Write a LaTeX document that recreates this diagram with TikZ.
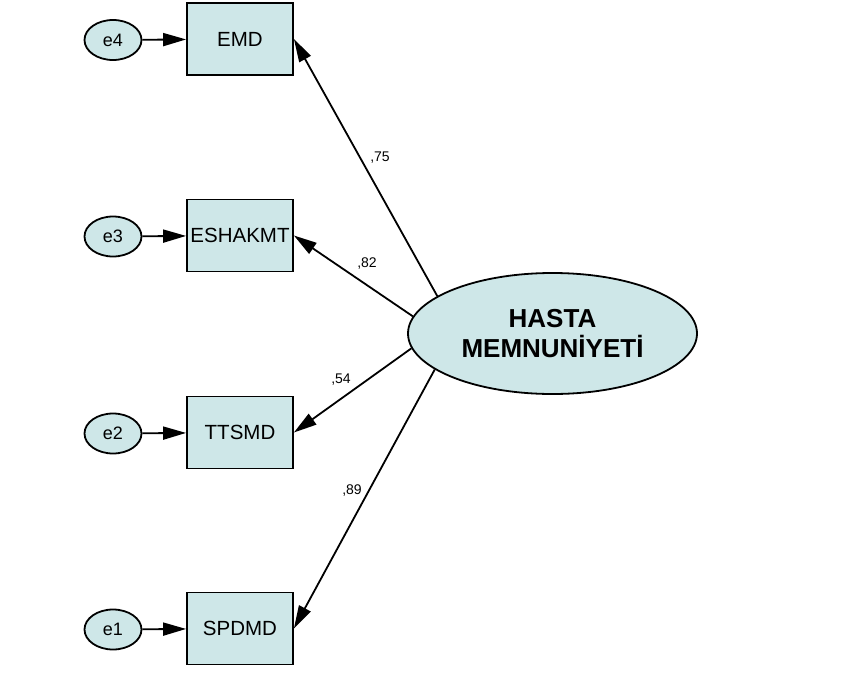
\documentclass[tikz,border=0pt]{standalone}
\usepackage{fontspec}
\setmainfont{Liberation Sans}
\usetikzlibrary{arrows.meta,shapes.geometric}
\definecolor{boxfill}{RGB}{206,231,232}
\tikzset{
  obs/.style={draw, line width=1.8pt, fill=boxfill, minimum width=106pt, minimum height=72pt, inner sep=0pt, font=\fontsize{20.5}{24}\selectfont},
  err/.style={draw, ellipse, line width=1.8pt, fill=boxfill, minimum width=57pt, minimum height=40pt, inner sep=0pt, font=\fontsize{18}{20}\selectfont},
  lat/.style={draw, ellipse, line width=1.8pt, fill=boxfill, minimum width=289pt, minimum height=121pt, inner sep=0pt, align=center, font=\fontsize{26}{30}\selectfont\bfseries},
  arr/.style={line width=1.8pt, -{Triangle[length=23pt,width=13pt]}},
  lbl/.style={font=\fontsize{14}{16}\selectfont, inner sep=0pt}
}
\begin{document}
\begin{tikzpicture}[x=1pt,y=-1pt]
\useasboundingbox (0,0) rectangle (850,677);
\node[obs] (emd) at (240,39) {EMD};
\node[obs] (esh) at (240,235.5) {ESHAKMT};
\node[obs] (tts) at (240,432.5) {TTSMD};
\node[obs] (spd) at (240,628.5) {SPDMD};
\node[err] (e4) at (113,40) {e4};
\node[err] (e3) at (113,236.5) {e3};
\node[err] (e2) at (113,433.5) {e2};
\node[err] (e1) at (113,629.5) {e1};
\node[lat] (hm) at (552.5,333.5) {HASTA\\MEMNUNİYETİ};
\draw[arr] (e4) -- (emd);
\draw[arr] (e3) -- (esh);
\draw[arr] (e2) -- (tts);
\draw[arr] (e1) -- (spd);
\draw[arr] (hm.162.6) -- (emd.east);
\draw[arr] (hm.173.7) -- (esh.east);
\draw[arr] (hm.186.3) -- (tts.east);
\draw[arr] (hm.197.8) -- (spd.east);
\node[lbl] (l75) at (380,158) {,75};
\node[lbl] (l82) at (367,264) {,82};
\node[lbl] (l54) at (341,380) {,54};
\node[lbl] (l89) at (352,490) {,89};
\end{tikzpicture}
\end{document}
